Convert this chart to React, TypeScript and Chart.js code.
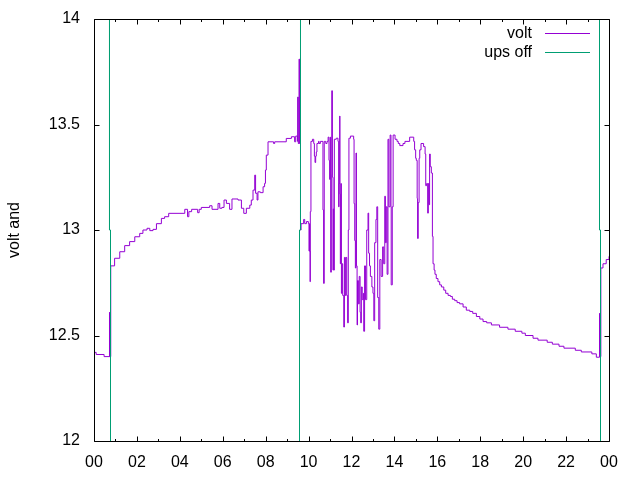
import { useEffect, useRef } from "react";
import { Chart, registerables } from "chart.js";

Chart.register(...registerables);

// ---- data (hour of day, volts) ----
const seriesLabels = ["volt", "ups off"];
const xTickLabels = ["00", "02", "04", "06", "08", "10", "12", "14", "16", "18", "20", "22", "00"];
const yTickLabels = ["12", "12.5", "13", "13.5", "14"];
const yTickValues = [12, 12.5, 13, 13.5, 14];

const voltNight: number[][] = [
  [0, 12.42], [0.1, 12.41], [0.47, 12.4], [0.722, 12.61], [0.723, 12.4],
];

const voltMorning: number[][] = [
  [0.78, 12.83], [0.96, 12.866], [1.2, 12.897], [1.43, 12.926], [1.66, 12.945], [1.9, 12.968],
  [2.13, 12.984], [2.28, 13.0], [2.47, 13.008], [2.6, 12.997], [2.75, 13.003], [2.91, 13.03],
  [3.14, 13.055], [3.29, 13.063], [3.48, 13.079], [4.23, 13.098], [4.36, 13.063], [4.42, 13.087],
  [4.55, 13.098], [4.83, 13.082], [4.9, 13.098], [5.0, 13.107], [5.39, 13.115], [5.5, 13.098],
  [5.78, 13.126], [5.86, 13.103], [5.96, 13.107], [6.06, 13.142], [6.17, 13.126], [6.32, 13.098],
  [6.43, 13.147], [6.71, 13.142], [6.87, 13.103], [6.98, 13.079], [7.1, 13.103], [7.26, 13.118],
  [7.33, 13.142], [7.41, 13.189], [7.49, 13.26], [7.53, 13.174], [7.6, 13.142], [7.64, 13.181],
  [7.75, 13.177], [7.88, 13.205], [7.95, 13.221], [7.99, 13.284], [8.03, 13.355], [8.11, 13.418],
  [8.37, 13.41], [8.42, 13.418], [8.96, 13.434], [9.2, 13.442], [9.35, 13.418], [9.4, 13.445],
];

const voltMidday: number[][] = [
  [9.48, 13.42], [9.49, 13.63], [9.52, 13.41], [9.555, 13.81], [9.575, 13.41],
  [9.623, 13.0], [9.65, 13.03], [9.77, 13.05], [9.82, 13.03], [9.9, 13.04], [9.99, 13.03],
  [10.02, 12.9], [10.04, 13.03], [10.05, 12.9], [10.07, 12.755], [10.08, 13.087], [10.11, 13.42],
  [10.18, 13.43], [10.24, 13.41], [10.27, 13.35], [10.3, 13.32], [10.33, 13.35], [10.36, 13.37],
  [10.39, 13.41], [10.46, 13.42], [10.49, 13.41], [10.55, 13.42], [10.67, 13.095], [10.7, 12.747],
  [10.73, 13.42], [10.8, 13.41], [10.86, 13.42], [10.91, 13.44], [10.95, 13.33], [10.98, 13.24],
  [11.01, 13.44], [11.03, 12.8], [11.06, 13.26], [11.08, 13.66], [11.11, 13.25], [11.14, 12.81],
  [11.15, 13.1], [11.17, 12.81], [11.2, 13.43], [11.29, 13.435], [11.37, 13.42], [11.4, 13.11],
  [11.42, 13.22], [11.45, 13.54], [11.46, 13.17], [11.48, 12.84], [11.5, 13.22], [11.53, 12.7],
  [11.56, 12.84], [11.59, 12.69], [11.64, 12.54], [11.67, 12.87], [11.71, 12.69], [11.74, 12.87],
  [11.78, 12.69], [11.82, 12.56], [11.85, 13.0], [11.88, 13.435], [11.95, 13.445], [12.1, 13.43],
  [12.12, 13.125], [12.15, 12.95], [12.18, 12.82], [12.21, 13.365], [12.23, 12.83], [12.26, 12.55],
  [12.28, 12.76], [12.32, 12.65], [12.36, 12.78], [12.4, 12.61], [12.43, 12.56], [12.46, 12.73],
  [12.5, 12.67], [12.55, 12.7], [12.57, 12.52], [12.61, 12.83], [12.65, 12.67], [12.71, 13.0],
  [12.77, 13.08], [12.8, 12.89], [12.84, 12.83], [12.88, 12.78], [12.95, 12.73], [13.0, 12.7],
  [13.04, 12.57], [13.08, 12.94], [13.14, 13.05], [13.18, 13.11], [13.22, 12.68], [13.27, 12.53],
  [13.32, 12.86], [13.38, 12.78], [13.45, 12.92], [13.5, 12.84], [13.55, 13.16], [13.58, 12.94],
  [13.62, 13.11], [13.66, 12.79], [13.7, 13.43], [13.74, 13.11], [13.8, 13.45], [13.84, 13.11],
  [13.85, 12.74], [13.9, 13.11], [13.94, 13.45], [14.03, 13.43], [14.12, 13.42], [14.18, 13.41],
  [14.25, 13.4], [14.4, 13.41], [14.49, 13.42], [14.71, 13.44], [14.9, 13.42], [14.94, 13.38],
  [14.99, 13.34], [15.02, 13.33], [15.06, 13.15], [15.08, 12.96], [15.11, 13.13], [15.15, 13.34],
  [15.18, 13.38], [15.24, 13.41], [15.36, 13.395], [15.43, 13.36], [15.46, 13.21], [15.5, 13.22],
  [15.55, 13.08], [15.58, 13.22], [15.61, 13.12], [15.64, 13.36], [15.67, 13.3], [15.72, 13.27],
];

const voltEvening: number[][] = [
  [15.77, 12.97], [15.8, 12.84], [15.85, 12.81], [15.89, 12.79], [15.95, 12.77], [16.03, 12.755],
  [16.11, 12.74], [16.19, 12.73], [16.3, 12.715], [16.39, 12.7], [16.5, 12.69], [16.61, 12.685],
  [16.7, 12.672], [16.81, 12.665], [16.92, 12.656], [17.04, 12.65], [17.2, 12.635], [17.35, 12.62],
  [17.51, 12.614], [17.65, 12.605], [17.82, 12.59], [17.98, 12.578], [18.13, 12.566], [18.3, 12.56],
  [18.52, 12.55], [18.9, 12.539], [19.29, 12.53], [19.63, 12.52], [19.94, 12.511], [20.1, 12.5],
  [20.46, 12.487], [20.69, 12.478], [21.12, 12.468], [21.36, 12.459], [21.67, 12.449], [21.9, 12.44],
  [22.43, 12.43], [22.71, 12.422], [23.2, 12.413], [23.41, 12.397], [23.558, 12.605], [23.559, 12.4],
  [23.62, 12.82], [23.72, 12.84], [23.87, 12.86], [24.0, 12.875],
];

const upsOff: number[][] = [
  [0, 15], [0.722, 15], [0.722, 13], [0.769, 13], [0.769, 11], [9.577, 11], [9.577, 13],
  [9.623, 13], [9.623, 15], [23.558, 15], [23.558, 13], [23.604, 13], [23.604, 11], [24, 11],
];

const VOLT_COLOR = "#9400D3";
const UPS_COLOR = "#009E73";
const FONT = "'Liberation Sans', Arial, sans-serif";

const toPoints = (rows: number[][]) => rows.map(([x, y]) => ({ x, y }));

const framePlugin = {
  id: "gnuFrame",
  afterDraw(chart: any) {
    const { ctx, chartArea, scales } = chart;
    const xs = scales.x;
    const ys = scales.y;
    const L = Math.round(chartArea.left) + 0.5;
    const R = Math.round(chartArea.right) + 0.5;
    const T = Math.round(chartArea.top) + 0.5;
    const B = Math.round(chartArea.bottom) + 0.5;
    ctx.save();
    ctx.strokeStyle = "#000";
    ctx.lineWidth = 1;
    ctx.beginPath();
    ctx.rect(L, T, R - L, B - T);
    for (let h = 0; h <= 24; h++) {
      const px = Math.round(xs.getPixelForValue(h)) + 0.5;
      const len = h % 2 === 0 ? 5 : 2.5;
      ctx.moveTo(px, B);
      ctx.lineTo(px, B - len);
      ctx.moveTo(px, T);
      ctx.lineTo(px, T + len);
    }
    for (const v of yTickValues) {
      const py = Math.round(ys.getPixelForValue(v)) + 0.5;
      ctx.moveTo(L, py);
      ctx.lineTo(L + 5, py);
      ctx.moveTo(R, py);
      ctx.lineTo(R - 5, py);
    }
    ctx.stroke();

    // gnuplot-style key (text right-aligned, sample line to the right)
    ctx.font = `16px ${FONT}`;
    ctx.textAlign = "right";
    ctx.textBaseline = "middle";
    chart.data.datasets.forEach((ds: any, i: number) => {
      const y = Math.round(chartArea.top + 14 + i * 19) + 0.5;
      ctx.fillStyle = "#000";
      ctx.fillText(ds.label, chartArea.right - 77, y);
      ctx.beginPath();
      ctx.strokeStyle = i === 0 ? VOLT_COLOR : UPS_COLOR;
      ctx.moveTo(chartArea.right - 64, y);
      ctx.lineTo(chartArea.right - 19, y);
      ctx.stroke();
    });
    ctx.restore();
  },
};

export default function App() {
  const ref = useRef<HTMLCanvasElement | null>(null);

  useEffect(() => {
    if (!ref.current) return;
    Chart.defaults.font.family = FONT;
    Chart.defaults.font.size = 16;
    Chart.defaults.color = "#000";
    const chart = new Chart(ref.current, {
      type: "line",
      data: {
        datasets: [
          {
            label: seriesLabels[0],
            data: toPoints([...voltNight, ...voltMorning, ...voltMidday, ...voltEvening]),
            borderColor: VOLT_COLOR,
            borderWidth: 1,
            pointRadius: 0,
            stepped: "before",
            fill: false,
            order: 1,
            clip: 0,
          },
          {
            label: seriesLabels[1],
            data: toPoints(upsOff),
            borderColor: UPS_COLOR,
            borderWidth: 1,
            pointRadius: 0,
            fill: false,
            order: 0,
            clip: 0,
          },
        ],
      },
      options: {
        animation: false,
        responsive: false,
        devicePixelRatio: 1,
        parsing: false,
        normalized: true,
        layout: { padding: { left: 0, right: 31, top: 19, bottom: 0 } },
        plugins: {
          legend: { display: false },
          tooltip: { enabled: false },
        },
        scales: {
          x: {
            type: "linear",
            min: 0,
            max: 24,
            grid: { display: false, drawTicks: false },
            border: { display: false },
            ticks: {
              stepSize: 2,
              autoSkip: false,
              maxRotation: 0,
              padding: 12,
              font: { size: 16, family: FONT },
              color: "#000",
              callback: (value: any) => xTickLabels[Math.round(Number(value) / 2)],
            },
            afterFit: (s: any) => {
              s.height = 39;
              s.paddingLeft = 0;
              s.paddingRight = 0;
            },
          },
          y: {
            type: "linear",
            min: 12,
            max: 14,
            grid: { display: false, drawTicks: false },
            border: { display: false },
            ticks: {
              stepSize: 0.5,
              padding: 14,
              font: { size: 16, family: FONT },
              color: "#000",
              callback: (value: any) => yTickLabels[Math.round((Number(value) - 12) * 2)],
            },
            title: {
              display: true,
              text: "volt and",
              color: "#000",
              font: { size: 16, family: FONT },
              padding: { top: 5, bottom: 0 },
            },
            afterFit: (s: any) => {
              s.width = 94;
              s.paddingTop = 0;
              s.paddingBottom = 0;
            },
          },
        },
      },
      plugins: [framePlugin],
    } as any);
    return () => chart.destroy();
  }, []);

  return (
    <div style={{ position: "absolute", left: 0, top: 0, width: 640, height: 480, background: "#fff" }}>
      <canvas ref={ref} width={640} height={480} style={{ width: 640, height: 480, display: "block" }} />
    </div>
  );
}
